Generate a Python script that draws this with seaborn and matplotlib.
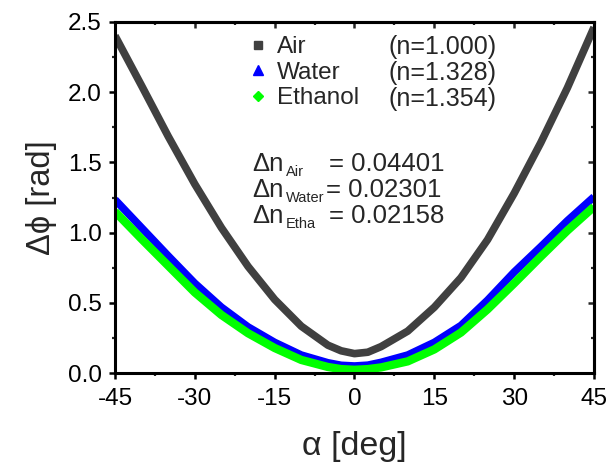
import matplotlib
matplotlib.use("Agg")
import matplotlib.pyplot as plt
from matplotlib.lines import Line2D
from matplotlib.ticker import MultipleLocator
import pandas as pd
import seaborn as sns

# values
alpha = [-45, -40, -35, -30, -25, -20, -15, -10, -5, -2.5, 0, 2.5, 5, 10, 15, 20, 25, 30, 35, 40, 45]
air = [2.40, 2.045, 1.685, 1.345, 1.035, 0.76, 0.525, 0.335, 0.20, 0.16, 0.14, 0.15, 0.19, 0.30, 0.47, 0.68, 0.95, 1.28, 1.64, 2.03, 2.46]
water = [1.235, 1.035, 0.835, 0.64, 0.47, 0.33, 0.22, 0.13, 0.075, 0.057, 0.052, 0.058, 0.078, 0.13, 0.22, 0.34, 0.52, 0.72, 0.90, 1.085, 1.255]
ethanol = [1.15, 0.955, 0.765, 0.575, 0.415, 0.285, 0.18, 0.095, 0.045, 0.03, 0.025, 0.03, 0.042, 0.085, 0.17, 0.29, 0.455, 0.64, 0.83, 1.015, 1.185]

names = ["Air", "Water", "Ethanol"]
n_text = ["(n=1.000)", "(n=1.328)", "(n=1.354)"]
dn_names = ["Air", "Water", "Etha"]
dn_vals = ["0.04401", "0.02301", "0.02158"]
colors = ["#404040", "#0000ff", "#00ff00"]

sns.set_theme(style="ticks")
plt.rcParams["font.family"] = ["Liberation Sans", "DejaVu Sans"]

df = pd.DataFrame({"alpha": alpha, "Air": air, "Water": water, "Ethanol": ethanol})

fig = plt.figure(figsize=(6.09, 4.63), dpi=100)
ax = fig.add_axes([0.1888, 0.1937, 0.7866, 0.7594])

lws = [5.5, 5.5, 6.0]
for name, c, lw in zip(names, colors, lws):
    sns.lineplot(data=df, x="alpha", y=name, color=c, lw=lw, ax=ax,
                 solid_joinstyle="round", solid_capstyle="butt")

ax.xaxis.set_major_locator(MultipleLocator(15))
ax.xaxis.set_minor_locator(MultipleLocator(7.5))
ax.yaxis.set_major_locator(MultipleLocator(0.5))
ax.yaxis.set_minor_locator(MultipleLocator(0.25))
ax.set_xlim(-45, 45)
ax.set_ylim(0, 2.5)
ax.set_xticks(ax.get_xticks())
ax.set_xticklabels([f"{v:g}" for v in ax.get_xticks()])
ax.set_yticks(ax.get_yticks())
ax.set_yticklabels([f"{v:.1f}" for v in ax.get_yticks()])
ax.set_xlim(-45, 45)
ax.set_ylim(0, 2.5)

for s in ax.spines.values():
    s.set_visible(True)
    s.set_linewidth(2.2)
    s.set_color("black")

ax.tick_params(which="major", direction="out", length=4.5, width=1.8, labelsize=17.5,
               colors="black")
ax.tick_params(axis="x", which="major", pad=6)
ax.tick_params(axis="y", which="major", pad=5)
ax.tick_params(which="minor", direction="out", length=2.5, width=1.6)

# inward ticks on top and right like the original
top = ax.secondary_xaxis("top")
top.xaxis.set_major_locator(MultipleLocator(15))
top.xaxis.set_minor_locator(MultipleLocator(7.5))
top.tick_params(which="major", direction="in", length=4.5, width=1.8, labeltop=False)
top.tick_params(which="minor", direction="in", length=2.5, width=1.6)
top.spines["top"].set_linewidth(2.2)
right = ax.secondary_yaxis("right")
right.yaxis.set_major_locator(MultipleLocator(0.5))
right.yaxis.set_minor_locator(MultipleLocator(0.25))
right.tick_params(which="major", direction="in", length=4.5, width=1.8, labelright=False)
right.tick_params(which="minor", direction="in", length=2.5, width=1.6)
right.spines["right"].set_linewidth(2.2)

ax.set_xlabel("α [deg]", fontsize=24.5, labelpad=15)
ax.set_ylabel("Δϕ [rad]", fontsize=23.5, labelpad=8)

handles = [
    Line2D([], [], ls="none", marker="s", color=colors[0], markersize=5.5),
    Line2D([], [], ls="none", marker="^", color=colors[1], markersize=7),
    Line2D([], [], ls="none", marker="D", color=colors[2], markersize=5),
]
ax.legend(handles, names, loc="upper left", bbox_to_anchor=(0.274, 0.958),
          frameon=False, fontsize=17.5, handlelength=1.0, handletextpad=0.25,
          labelspacing=0.14, borderpad=0, borderaxespad=0)

for i, t in enumerate(n_text):
    ax.text(6.3, 2.32 - i * 0.183, t, fontsize=18, va="center", ha="left")

# delta-n lines: main text, small lowered subscript, value
eq_x = [-4.79, -5.4, -4.79]
for i, (nm, v) in enumerate(zip(dn_names, dn_vals)):
    yb = 1.44 - i * 0.185
    ax.text(-19.2, yb, "Δn", fontsize=18.5, va="baseline", ha="left")
    ax.text(-12.85, yb - 0.036, nm, fontsize=10.5, va="baseline", ha="left")
    ax.text(eq_x[i], yb, "= " + v, fontsize=18.5, va="baseline", ha="left")

fig.savefig("out.png", dpi=100)
